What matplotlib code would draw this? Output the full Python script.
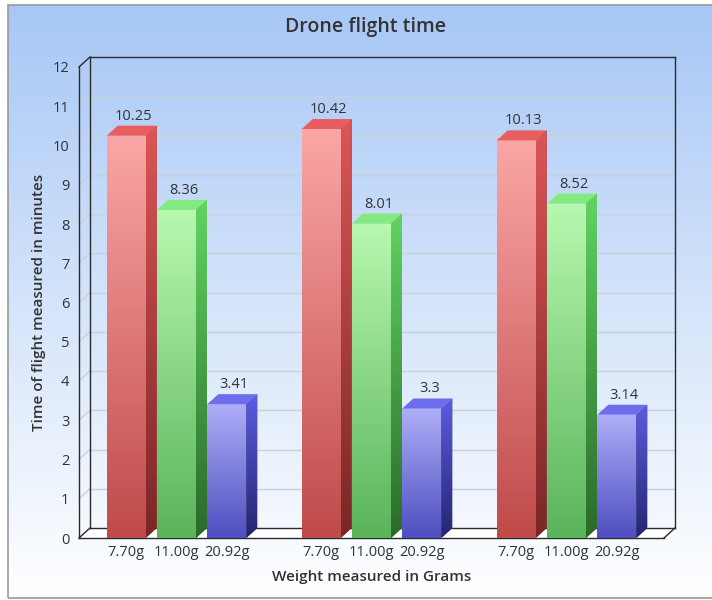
import numpy as np
import matplotlib.pyplot as plt
from matplotlib.colors import LinearSegmentedColormap
from matplotlib.patches import Polygon, Rectangle

plt.rcParams['font.family'] = ['Open Sans', 'DejaVu Sans']

# data
groups = [0, 1, 2]
weights = ['7.70g', '11.00g', '20.92g']
flight_time = [
    [10.25, 8.36, 3.41],
    [10.42, 8.01, 3.3],
    [10.13, 8.52, 3.14],
]

# colours per weight: front top, front bottom, side top, side bottom, top face
palette = [
    ('#fba6a6', '#c04a4a', '#dc5656', '#7a2626', '#e85e5e'),
    ('#b8f8b0', '#5ab45a', '#62d462', '#2a6a2a', '#82ea7e'),
    ('#aeaef8', '#4e4ec0', '#5c5ce2', '#25256e', '#6e6eec'),
]

W, H = 712, 600
fig = plt.figure(figsize=(W / 100, H / 100), dpi=100)

# background gradient with thin grey frame
bg = fig.add_axes([0, 0, 1, 1], zorder=-10)
bg_cmap = LinearSegmentedColormap.from_list('bg', ['#a7c7f6', '#d4e4fa', '#ffffff'])
grad = np.linspace(0, 1, 256).reshape(-1, 1)
bg.imshow(grad, extent=(8 / W, 1, 2 / H, 1 - 5 / H), cmap=bg_cmap,
          aspect='auto', origin='upper')
bg.add_patch(Rectangle((8 / W, 2 / H), 1, 1 - 7 / H, fill=False,
                       edgecolor='#9a9a9a', lw=1.2))
bg.set_xlim(0, 1)
bg.set_ylim(0, 1)
bg.axis('off')

left, right, bottom, top = 79, 664, 538, 67
ax = fig.add_axes([left / W, (H - bottom) / H, (right - left) / W, (bottom - top) / H])
ax.patch.set_visible(False)
for s in ax.spines.values():
    s.set_visible(False)

x0, x1 = -0.5, 2.5
y0, y1 = 0, 12
dx = 11 * (x1 - x0) / (right - left)
dy = 10 * (y1 - y0) / (bottom - top)
bar_w = 0.2
step = 0.258

dark = '#2a2a2a'
grid_c = '#c9d0da'

# floor
ax.add_patch(Polygon([(x0, 0), (x1, 0), (x1 + dx, dy), (x0 + dx, dy)],
                     closed=True, facecolor='white', edgecolor='none', zorder=1,
                     clip_on=False))

# back-wall grid and left-wall diagonals
for v in range(1, 12):
    ax.plot([x0 + dx, x1 + dx], [v + dy, v + dy], color=grid_c, lw=1, zorder=1,
            clip_on=False)
    ax.plot([x0, x0 + dx], [v, v + dy], color=grid_c, lw=1, zorder=1,
            clip_on=False)

# frame lines
frame = [
    ([x0, x0], [0, 12]),
    ([x0, x0 + dx], [12, 12 + dy]),
    ([x0 + dx, x1 + dx], [12 + dy, 12 + dy]),
    ([x1 + dx, x1 + dx], [12 + dy, dy]),
    ([x0 + dx, x0 + dx], [dy, 12 + dy]),
    ([x0, x1], [0, 0]),
    ([x1, x1 + dx], [0, dy]),
    ([x0 + dx, x1 + dx], [dy, dy]),
    ([x0, x0 + dx], [0, dy]),
]
for xs, ys in frame:
    ax.plot(xs, ys, color=dark, lw=1, zorder=2, clip_on=False)

tick_pos = []
tick_lab = []
for g in groups:
    for j, val in enumerate(flight_time[g]):
        ft, fb, st, sb, tc = palette[j]
        xc = g + (j - 1) * step
        xl, xr = xc - bar_w / 2, xc + bar_w / 2
        tick_pos.append(xc)
        tick_lab.append(weights[j])

        bar = ax.bar(xc, val, width=bar_w, color=fb, zorder=4, lw=0)[0]
        cm_front = LinearSegmentedColormap.from_list('f', [fb, ft])
        im = ax.imshow(grad[::-1], extent=(xl, xr, 0, val), cmap=cm_front,
                       aspect='auto', origin='upper', zorder=4.1)
        im.set_clip_path(bar)

        side = Polygon([(xr, 0), (xr + dx, dy), (xr + dx, val + dy), (xr, val)],
                       closed=True, facecolor=sb, edgecolor='none', zorder=4)
        ax.add_patch(side)
        cm_side = LinearSegmentedColormap.from_list('s', [sb, st])
        im2 = ax.imshow(grad[::-1], extent=(xr, xr + dx, 0, val + dy), cmap=cm_side,
                        aspect='auto', origin='upper', zorder=4.1)
        im2.set_clip_path(side)

        ax.add_patch(Polygon([(xl, val), (xr, val), (xr + dx, val + dy),
                              (xl + dx, val + dy)], closed=True,
                             facecolor=tc, edgecolor='none', zorder=4.2))

        ax.annotate(f'{val:g}', (xc + dx / 2 + 0.01, val + dy), xytext=(0, 1.5),
                    textcoords='offset points', ha='center', va='bottom',
                    fontsize=10.5, color='#333333', zorder=5)

ax.set_xlim(x0, x1)
ax.set_ylim(y0, y1)
ax.set_xticks(tick_pos)
ax.set_xticklabels(tick_lab)
ax.set_yticks(range(0, 13))
ax.tick_params(axis='both', length=0, labelsize=10.5, labelcolor='#333333')
ax.tick_params(axis='y', pad=7)
ax.tick_params(axis='x', pad=5)

ax.set_xlabel('Weight measured in Grams', fontsize=11, fontweight='semibold',
              color='#333333', labelpad=7)
ax.set_ylabel('Time of flight measured in minutes', fontsize=11,
              fontweight='semibold', color='#333333', labelpad=5)
fig.text(0.514, 1 - 27 / H, 'Drone flight time', ha='center', va='center',
         fontsize=14, fontweight='semibold', color='#333333')

plt.savefig('out.png', dpi=100)
plt.close()
